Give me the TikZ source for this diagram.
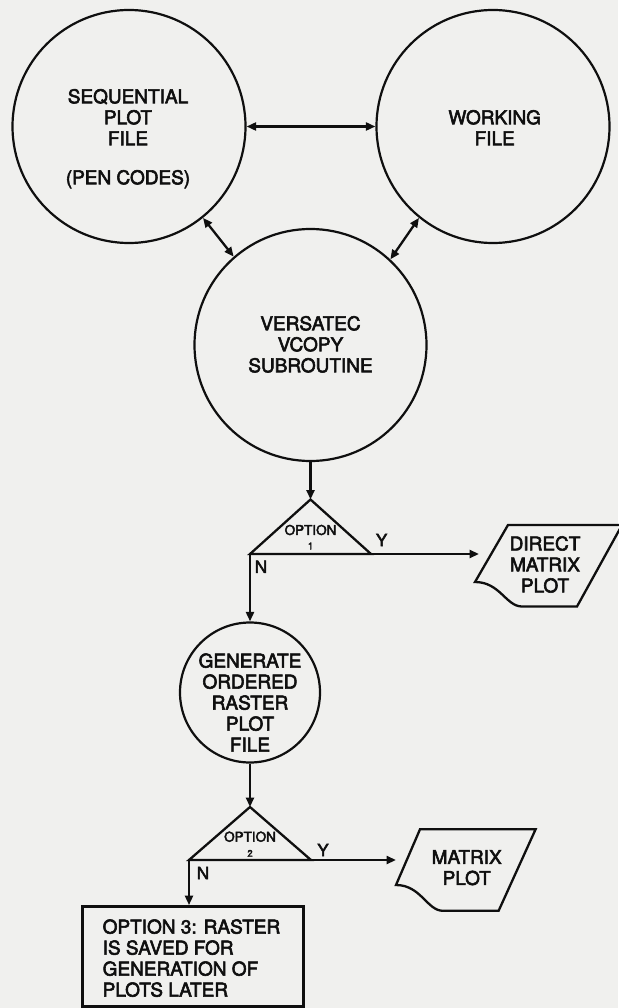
\documentclass[tikz,border=0pt]{standalone}
\usepackage{fontspec}
\setmainfont{TeX Gyre Heros}[FakeBold=3]
\usetikzlibrary{arrows.meta}
\definecolor{bg}{RGB}{240,240,238}
\definecolor{ink}{RGB}{15,15,15}
\begin{document}
\begin{tikzpicture}[x=1pt,y=-1pt,
  line/.style={draw=ink,line width=2.3pt},
  circ/.style={circle,draw=ink,line width=2.2pt,inner sep=0pt},
  big/.style={font=\fontsize{19}{21}\selectfont,text=ink,align=center,inner sep=0pt,anchor=north},
  opt/.style={font=\fontsize{13.5}{15}\selectfont,text=ink,inner sep=0pt},
  dig/.style={font=\fontsize{9.5}{11}\selectfont,text=ink,inner sep=0pt},
  yn/.style={font=\fontsize{17}{19}\selectfont,text=ink,inner sep=0pt},
  tip/.tip={Triangle[length=9.5pt,width=8pt]},
  arr/.style={line,-tip},
  darr/.style={line,tip-tip}]
\fill[bg] (0,0) rectangle (618,1008);
\useasboundingbox (0,0) rectangle (618,1008);

% circles
\node[circ,minimum size=233pt] (TL) at (129,126.5) {};
\node[circ,minimum size=233pt] (TR) at (493,126.5) {};
\node[circ,minimum size=232pt] (V) at (310.5,345) {};
\node[circ,minimum size=140pt] (G) at (250,692.5) {};

% texts in circles
\node[big] (TLt) at (128,88.85) {SEQUENTIAL\\PLOT\\FILE\\[18pt](PEN CODES)};
\node[big] (TRt) at (494.7,109.85) {WORKING\\FILE};
\node[big] (Vt) at (310.5,315.85) {VERSATEC\\VCOPY\\SUBROUTINE};
\node[big] (Gt) at (250,653.15) {GENERATE\\ORDERED\\RASTER\\PLOT\\FILE};

% connectors between circles
\draw[darr] (TL.east) -- (TR.west);
\draw[darr] (TL.-51.6) -- (V.131);
\draw[darr] (TR.231.8) -- (V.47.4);

% option 1 triangle
\coordinate (T1a) at (310.5,499.5);
\coordinate (T1l) at (250,554);
\coordinate (T1r) at (371,554);
\draw[line] (T1a) -- (T1l) -- (T1r) -- cycle;
\node[opt] (O1) at (310.5,530) {OPTION};
\node[dig] (O1n) at (310.5,546) {1};
\node[yn] (Y1) at (381.6,540) {Y};
\node[yn] (N1) at (261,566.7) {N};
\draw[arr] (V.south) -- (T1a);

% direct matrix plot
\coordinate (DMl) at (479,554);
\draw[line] (508,525) -- (622,525) -- (577,606.5) -- (522,606.5)
  .. controls (506,606.5) and (500,582) .. (475,582) -- cycle;
\node[big] (DMt) at (545,536) {DIRECT\\MATRIX\\PLOT};
\draw[arr] (T1r) -- (DMl);
\draw[arr] (T1l) -- (G.north);

% option 2 triangle
\coordinate (T2a) at (250,807);
\coordinate (T2l) at (189,860);
\coordinate (T2r) at (311,860);
\draw[line] (T2a) -- (T2l) -- (T2r) -- cycle;
\node[opt] (O2) at (250,836.7) {OPTION};
\node[dig] (O2n) at (250,853.3) {2};
\node[yn] (Y2) at (323,850) {Y};
\node[yn] (N2) at (203,873) {N};
\draw[arr] (G.south) -- (T2a);

% matrix plot
\coordinate (MPl) at (396,860);
\draw[line] (420,829.3) -- (535.6,829.3) -- (498.6,910.8) -- (443,910.8)
  .. controls (427,910.8) and (421,885) .. (396,885) -- cycle;
\node[big] (MPt) at (466.7,849.85) {MATRIX\\PLOT};
\draw[arr] (T2r) -- (MPl);

% option 3 box
\node[draw=ink,line width=2.8pt,minimum width=221pt,minimum height=100pt,inner sep=0pt] (R) at (192.75,956.5) {};
\node[big,align=left,anchor=north west] (Rt) at (102.5,919.15) {OPTION 3: RASTER\\IS SAVED FOR\\GENERATION OF\\PLOTS LATER};
\draw[arr] (T2l) -- (T2l |- R.north);
\end{tikzpicture}
\end{document}
